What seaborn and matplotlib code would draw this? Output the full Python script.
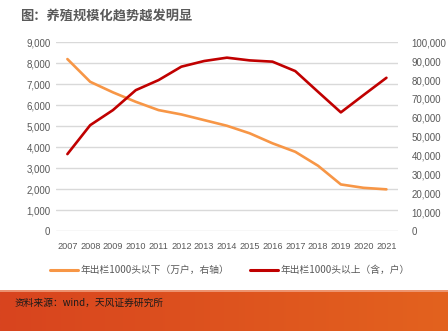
import numpy as np
import pandas as pd
import matplotlib
matplotlib.use("Agg")
import matplotlib.pyplot as plt
import seaborn as sns
from matplotlib.ticker import FuncFormatter, MultipleLocator
from matplotlib.lines import Line2D

years = [str(y) for y in range(2007, 2022)]
small_farms = [91150, 79100, 73500, 68500, 64100, 61800, 58800, 55800,
               51800, 46500, 42000, 34600, 24700, 22900, 22100]   # 万户, right axis
large_farms = [3670, 5050, 5770, 6720, 7200, 7840, 8110, 8270,
               8140, 8080, 7630, 6640, 5660, 6490, 7310]          # 户, left axis

label_small = "年出栏1000头以下（万户，右轴）"
label_large = "年出栏1000头以上（含，户）"
title = "图：养殖规模化趋势越发明显"
source = "资料来源：wind，天风证券研究所"

df = pd.DataFrame({"year": years, "small": small_farms, "large": large_farms})
df["x"] = np.arange(len(years))

sns.set_theme(style="white")
plt.rcParams['font.family'] = ['Noto Sans CJK SC', 'DejaVu Sans']

fig = plt.figure(figsize=(4.48, 3.31), dpi=100)
ax = fig.add_axes([0.125, 0.302, 0.763, 0.570])
ax2 = ax.twinx()

orange = "#F79646"
red = "#C00000"
tick_color = "#595959"

sns.lineplot(data=df, x="x", y="large", ax=ax, color=red, linewidth=1.9, legend=False)
sns.lineplot(data=df, x="x", y="small", ax=ax2, color=orange, linewidth=1.9, legend=False)
ax.set_zorder(ax2.get_zorder() + 1)
ax.patch.set_visible(False)

ax.set_xlim(-0.5, len(years) - 0.5)
ax.set_ylim(0, 9000)
ax2.set_ylim(0, 100000)
ax.yaxis.set_major_locator(MultipleLocator(1000))
ax2.yaxis.set_major_locator(MultipleLocator(10000))
fmt = FuncFormatter(lambda v, p: f"{int(v):,}")
ax.yaxis.set_major_formatter(fmt)
ax2.yaxis.set_major_formatter(fmt)
ax.set_xticks(df["x"])
ax.set_xticklabels(years)

ax2.grid(False)
ax.grid(False)
for v in range(0, 9001, 1000):
    ax2.axhline(v / 9000 * 100000, color="#D9D9D9", linewidth=1.0, zorder=0)

for a in (ax, ax2):
    for s in a.spines.values():
        s.set_visible(False)
    a.set_xlabel("")
    a.set_ylabel("")
ax.tick_params(axis="both", length=0, labelsize=7, colors=tick_color, pad=4)
ax.tick_params(axis="x", pad=8, labelsize=6.6)
ax2.tick_params(axis="y", length=0, labelsize=7, colors=tick_color, pad=10)
for lab in ax.get_yticklabels() + ax2.get_yticklabels() + ax.get_xticklabels():
    lab.set_family(['Liberation Sans', 'DejaVu Sans'])

# legend
h1 = Line2D([], [], color=orange, linewidth=2.2)
h2 = Line2D([], [], color=red, linewidth=2.2)
fig.legend([h1, h2], [label_small, label_large], loc="center left",
           bbox_to_anchor=(0.092, 1 - 270 / 331),
           ncol=2, frameon=False, fontsize=7, handlelength=2.9, handletextpad=0.2,
           columnspacing=2.2, labelcolor=tick_color)

fig.text(0.045, 0.952, title, fontsize=9.5, fontweight="bold", color="#595959",
         ha="left", va="center")

# bottom source band with gradient
bax = fig.add_axes([0, 0, 1, 1 - 290 / 331])
grad = np.linspace(0, 1, 256)
c1 = np.array([216, 68, 31]) / 255
c2 = np.array([227, 98, 30]) / 255
img = (c1[None, :] * (1 - grad[:, None]) + c2[None, :] * grad[:, None])[None, :, :]
bax.imshow(img, aspect="auto", extent=[0, 1, 0, 1])
bax.axhline(0.97, color="#F0A080", linewidth=1.2)
bax.set_xlim(0, 1)
bax.set_ylim(0, 1)
bax.axis("off")
fig.text(0.033, 1 - 303 / 331, source, fontsize=7, color="#1a1a1a", ha="left", va="center")

fig.savefig("out.png", dpi=100)
